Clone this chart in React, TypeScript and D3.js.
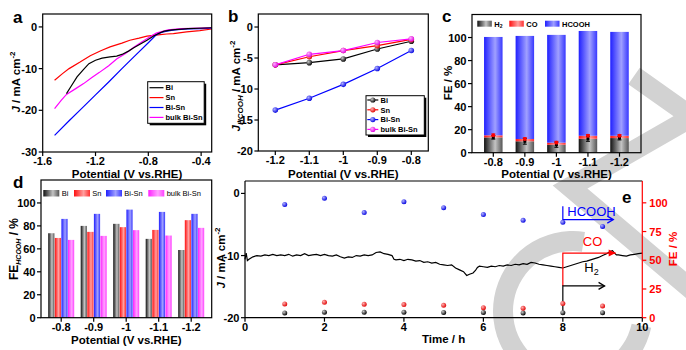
import React from 'react';
import * as d3 from 'd3';

const FONT = '"Liberation Sans", Arial, Helvetica, sans-serif';

// ---------- panel a : LSV curves, [potential (V vs RHE), J (mA cm-2)]
const lsvNames = ['Bi', 'Sn', 'Bi-Sn', 'bulk Bi-Sn'];
const lsvColors = ['#000000', '#ff0000', '#0000ff', '#ff00ff'];
const lsvBi = [
  [-1.42, -16.0], [-1.38, -14.0], [-1.34, -12.0], [-1.29, -10.2], [-1.25, -8.8], [-1.2, -8.0],
  [-1.15, -7.5], [-1.09, -7.2], [-1.04, -7.0], [-1.0, -6.6], [-0.95, -5.8], [-0.91, -5.0],
  [-0.86, -4.1], [-0.81, -3.2], [-0.76, -2.2], [-0.72, -1.5], [-0.68, -1.0], [-0.62, -0.7],
  [-0.5, -0.4], [-0.32, -0.2],
];
const lsvSn = [
  [-1.51, -12.8], [-1.45, -11.2], [-1.4, -10.0], [-1.32, -8.5], [-1.24, -6.9], [-1.16, -5.7],
  [-1.09, -4.8], [-1.0, -3.9], [-0.94, -3.2], [-0.87, -2.7], [-0.81, -2.2], [-0.71, -1.85],
  [-0.66, -1.7], [-0.61, -1.6], [-0.51, -1.2], [-0.41, -0.9], [-0.32, -0.5],
];
const lsvBiSn = [
  [-1.51, -26.0], [-1.4, -22.5], [-1.3, -19.4], [-1.2, -16.3], [-1.1, -13.2], [-1.0, -10.0],
  [-0.9, -6.9], [-0.8, -3.8], [-0.74, -1.9], [-0.7, -1.3], [-0.66, -1.0], [-0.6, -0.7],
  [-0.5, -0.5], [-0.4, -0.4], [-0.32, -0.3],
];
const lsvBulk = [
  [-1.51, -19.6], [-1.46, -17.6], [-1.42, -16.2], [-1.35, -14.8], [-1.29, -13.6], [-1.23, -12.2],
  [-1.17, -10.9], [-1.1, -9.3], [-1.04, -7.7], [-0.97, -6.3], [-0.91, -4.9], [-0.85, -3.6],
  [-0.79, -2.4], [-0.74, -1.5], [-0.7, -1.1], [-0.65, -0.7], [-0.55, -0.4], [-0.32, -0.2],
];
const lsvTicksX = [-1.6, -1.2, -0.8, -0.4];
const lsvTicksY = [0, -10, -20, -30];

// ---------- panel b : partial current density of HCOOH
const potB = [-1.2, -1.1, -1.0, -0.9, -0.8];
const jhBi = [-6.1, -5.75, -5.15, -3.55, -2.3];
const jhSn = [-6.1, -4.8, -3.8, -3.0, -2.0];
const jhBiSn = [-13.4, -11.5, -9.25, -6.7, -3.8];
const jhBulk = [-6.1, -4.4, -3.8, -2.5, -1.9];
const bTicksY = [0, -5, -10, -15, -20];

// ---------- panel c : FE of Bi-Sn
const potC = ['-0.8', '-0.9', '-1', '-1.1', '-1.2'];
const feH2 = [13.3, 9.9, 6.9, 12.1, 12.7];
const feCO = [1.8, 2.0, 1.8, 2.6, 2.0];
const feHCOOH = [85.4, 89.5, 93.6, 91.0, 90.2];
const errH2 = [1.5, 2.5, 2.2, 2.2, 1.6];
const errCO = [1.2, 1.0, 1.2, 1.0, 1.0];
const feTicks = [0, 20, 40, 60, 80, 100];

// ---------- panel d : FE(HCOOH) of all catalysts
const potD = ['-0.8', '-0.9', '-1', '-1.1', '-1.2'];
const fehBi = [73.6, 80.0, 81.8, 68.7, 59.0];
const fehSn = [69.5, 74.8, 78.9, 76.5, 85.0];
const fehBiSn = [86.1, 90.5, 94.2, 92.2, 90.5];
const fehBulk = [67.8, 71.3, 76.3, 71.6, 78.3];

// ---------- panel e : stability test
const traceT = [
  0, 0.03, 0.06, 0.1, 0.2, 0.3, 0.4, 0.5, 0.6, 0.7, 0.8, 0.9, 1.0, 1.1, 1.2, 1.3, 1.4, 1.5, 1.6,
  1.7, 1.8, 1.9, 2.0, 2.1, 2.2, 2.3, 2.4, 2.5, 2.6, 2.7, 2.8, 2.9, 3.0, 3.1, 3.2, 3.3, 3.4, 3.5,
  3.6, 3.7, 3.75, 3.8, 3.9, 4.0, 4.1, 4.2, 4.3, 4.4, 4.5, 4.6, 4.7, 4.8, 4.9, 5.0, 5.1, 5.2, 5.3,
  5.4, 5.5, 5.58, 5.65, 5.74, 5.8, 5.85, 5.9, 6.0, 6.1, 6.2, 6.3, 6.4, 6.5, 6.6, 6.7, 6.8, 6.9,
  7.0, 7.1, 7.2, 7.3, 7.4, 7.5, 7.6, 7.7, 7.8, 7.9, 8.0, 8.1, 8.2, 8.3, 8.4, 8.5, 8.6, 8.7, 8.8,
  8.9, 9.0, 9.1, 9.2, 9.25, 9.3, 9.35, 9.4, 9.5, 9.6, 9.7, 9.8, 9.9, 10.0,
];
const traceJ = [
  -10.6, -9.6, -10.8, -10.6, -10.2, -10.0, -10.1, -9.9, -10.0, -9.8, -10.0, -9.9, -10.0, -9.8,
  -10.1, -9.9, -10.0, -9.7, -10.0, -9.9, -9.8, -10.0, -9.8, -10.0, -10.1, -9.9, -10.2, -10.4,
  -10.2, -10.3, -10.0, -10.1, -9.9, -10.0, -9.9, -9.5, -9.4, -9.7, -9.8, -10.0, -10.6, -10.7,
  -10.6, -10.8, -10.6, -10.7, -10.9, -10.8, -11.1, -11.0, -11.2, -11.1, -11.4, -11.5, -11.6,
  -11.5, -12.0, -12.3, -12.6, -13.2, -13.0, -12.8, -12.4, -11.9, -11.7, -11.8, -11.9, -11.7,
  -11.8, -11.6, -11.7, -11.5, -11.6, -11.4, -11.5, -11.3, -11.4, -11.1, -11.2, -11.4, -11.5,
  -11.6, -11.7, -11.8, -11.9, -12.0, -11.8, -11.6, -11.4, -11.2, -11.0, -10.9, -10.7, -10.5,
  -10.3, -10.0, -9.7, -9.3, -9.2, -9.6, -9.9, -9.9, -10.0, -10.1, -9.9, -9.8, -9.7, -9.6,
];
const hours = [1, 2, 3, 4, 5, 6, 7, 8, 9];
const eHCOOH = [98.6, 104.0, 91.5, 101.0, 95.8, 89.8, 84.8, 83.0, 79.5];
const eCO = [12.0, 13.4, 11.7, 11.4, 10.8, 8.7, 8.2, 12.3, 10.2];
const eH2 = [4.2, 4.8, 4.8, 4.8, 4.6, 4.6, 4.2, 4.4, 4.4];
const eTicksX = [0, 2, 4, 6, 8, 10];
const eTicksJ = [0, -10, -20];
const eTicksFE = [0, 25, 50, 75, 100];

// annotation levels (time h, FE %) for the product arrows
const annoT = 8;
const annoHCOOH = { top: 97, level: 85.4, end: 9.27 };
const annoCO = { level: 56.3, end: 9.33 };
const annoH2 = { level: 27.7, bottom: 4.4, end: 9.05 };

// ---------- scales
const xA = d3.scaleLinear().domain([-1.6, -0.32]).range([42.7, 211.7]);
const yA = d3.scaleLinear().domain([-30, 3.1]).range([152, 14]);
const xB = d3.scaleLinear().domain([-1.25, -0.75]).range([258.3, 428.3]);
const yB = d3.scaleLinear().domain([-20, 2.1]).range([151, 14]);
const xC = d3.scalePoint().domain(potC).range([493.3, 619.5]);
const yC = d3.scaleLinear().domain([0, 120]).range([152.7, 14.5]);
const xD = d3.scalePoint().domain(potD).range([61.2, 191.2]);
const xDin = d3.scaleBand().domain(lsvNames).range([-13, 13]).paddingInner(0.06);
const yD = d3.scaleLinear().domain([0, 120]).range([317.7, 180]);
const xE = d3.scaleLinear().domain([0, 10]).range([245, 642.3]);
const yEJ = d3.scaleLinear().domain([-20, 2]).range([317.7, 181]);
const yEF = d3.scaleLinear().domain([0, 119]).range([317.7, 181]);

const lineA = d3.line().x((d: any) => xA(d[0])).y((d: any) => yA(d[1]));
const lineB = d3.line().x((d: any) => xB(d[0])).y((d: any) => yB(d[1]));
const lineE = d3.line().x((d: any) => xE(d[0])).y((d: any) => yEJ(d[1]));

const sphereIds = ['sphK', 'sphR', 'sphB', 'sphM'];
const barIds = ['barK', 'barR', 'barB', 'barM'];

const tickFs = 11;
const titleFs = 11.5;

function Frame({ x0, x1, y0, y1 }: any) {
  return <rect x={x0} y={y0} width={x1 - x0} height={y1 - y0} fill="none" stroke="#000" strokeWidth={1.2} />;
}

function YTicks({ scale, values, x, color = '#000', right = false }: any) {
  return (
    <g>
      {values.map((v: number) => (
        <g key={v}>
          <line x1={x} x2={right ? x + 4 : x - 4} y1={scale(v)} y2={scale(v)} stroke={color} strokeWidth={1.2} />
          <text x={right ? x + 7 : x - 5.5} y={scale(v) + 4} textAnchor={right ? 'start' : 'end'} fontSize={tickFs} fontWeight="bold" fill={color}>
            {String(v)}
          </text>
        </g>
      ))}
    </g>
  );
}

function XTicks({ scale, values, y, labels }: any) {
  return (
    <g>
      {values.map((v: any, i: number) => (
        <g key={String(v)}>
          <line x1={scale(v)} x2={scale(v)} y1={y} y2={y + 4} stroke="#000" strokeWidth={1.2} />
          <text x={scale(v)} y={y + 13.2} textAnchor="middle" fontSize={tickFs} fontWeight="bold">
            {labels ? labels[i] : String(v)}
          </text>
        </g>
      ))}
    </g>
  );
}

function Chevron({ x, y, color }: any) {
  return <path d={`M${x - 6},${y - 3.5} L${x},${y} L${x - 6},${y + 3.5}`} fill="none" stroke={color} strokeWidth={1.3} />;
}

export default function App() {
  const lsvData = [lsvBi, lsvSn, lsvBiSn, lsvBulk];
  const jhData = [jhBi, jhSn, jhBiSn, jhBulk];
  const fehData = [fehBi, fehSn, fehBiSn, fehBulk];
  const traceData = traceT.map((t, i) => [t, traceJ[i]]);
  const wmArc = d3.arc()({ innerRadius: 60, outerRadius: 80, startAngle: -4.5, endAngle: 0.15 } as any) as string;
  const wmLine = d3.line()([[634, 76], [692, 117], [570, 187], [705, 301]] as any) as string;

  return (
    <svg width={686} height={350} style={{ position: 'absolute', left: 0, top: 0, background: '#fff' }} fontFamily={FONT}>
      <defs>
        {[['#000', '#c8c8c8'], ['#e00000', '#ffb0b0'], ['#0000e0', '#b0b0ff'], ['#e000e0', '#ffb0ff']].map((c, i) => (
          <radialGradient key={i} id={sphereIds[i]} cx="35%" cy="35%" r="70%">
            <stop offset="0%" stopColor={c[1]} />
            <stop offset="100%" stopColor={c[0]} />
          </radialGradient>
        ))}
        {[['#111', '#c4c4c4', '#555'], ['#ff1010', '#ffa0a0', '#ff3030'], ['#2020ff', '#a0a0ff', '#3838ff'], ['#ff20ff', '#ffa4ff', '#ff40ff']].map((c, i) => (
          <linearGradient key={i} id={barIds[i]} x1="0" x2="1" y1="0" y2="0">
            <stop offset="0%" stopColor={c[0]} />
            <stop offset="60%" stopColor={c[1]} />
            <stop offset="100%" stopColor={c[2]} />
          </linearGradient>
        ))}
      </defs>

      {/* watermark */}
      <g fill="#d2d2d2" stroke="none">
        <path d={wmArc} transform="translate(573,311)" />
        <path d={wmLine} fill="none" stroke="#d2d2d2" strokeWidth={20} strokeLinejoin="miter" />
      </g>

      {/* ---------------- panel a ---------------- */}
      <g>
        {[1, 2, 3, 0].map((k) => (
          <path key={k} d={lineA(lsvData[k] as any) as string} fill="none" stroke={lsvColors[k]} strokeWidth={1.2} />
        ))}
        <Frame x0={42.7} x1={211.7} y0={14} y1={152} />
        <YTicks scale={yA} values={lsvTicksY} x={42.7} />
        <XTicks scale={xA} values={lsvTicksX} y={152} />
        <rect x={149.7} y={83.7} width={56.5} height={41.6} fill="#000" />
        <rect x={147.7} y={81.7} width={56.5} height={41.6} fill="#fff" stroke="#000" strokeWidth={1} />
        {lsvNames.map((n, i) => (
          <g key={n}>
            <line x1={149.5} x2={163.5} y1={87.7 + i * 9.9} y2={87.7 + i * 9.9} stroke={lsvColors[i]} strokeWidth={1.2} />
            <text x={165.5} y={90.4 + i * 9.9} fontSize={7.5} fontWeight="bold">{n}</text>
          </g>
        ))}
        <text transform={`translate(19.5,82) rotate(-90)`} textAnchor="middle" fontSize={titleFs} fontWeight="bold">
          <tspan fontStyle="italic">J</tspan> / mA cm<tspan dy={-5} fontSize={8}>-2</tspan>
        </text>
        <text x={127} y={177.5} textAnchor="middle" fontSize={titleFs} fontWeight="bold">Potential (V vs.RHE)</text>
        <text x={13} y={23} fontSize={17} fontWeight="bold">a</text>
      </g>

      {/* ---------------- panel b ---------------- */}
      <g>
        {[0, 1, 2, 3].map((k) => (
          <g key={k}>
            <path d={lineB(potB.map((p, i) => [p, jhData[k][i]]) as any) as string} fill="none" stroke={lsvColors[k]} strokeWidth={1.2} />
            {potB.map((p, i) => (
              <circle key={i} cx={xB(p)} cy={yB(jhData[k][i])} r={2.8} fill={`url(#${sphereIds[k]})`} />
            ))}
          </g>
        ))}
        <Frame x0={258.3} x1={428.3} y0={14} y1={151} />
        <YTicks scale={yB} values={bTicksY} x={258.3} />
        <XTicks scale={xB} values={potB} y={151} labels={['-1.2', '-1.1', '-1', '-0.9', '-0.8']} />
        <rect x={368} y={97.7} width={58.3} height={39.3} fill="#000" />
        <rect x={366} y={95.7} width={58.3} height={39.3} fill="#fff" stroke="#000" strokeWidth={1} />
        {lsvNames.map((n, i) => (
          <g key={n}>
            <line x1={367.3} x2={378.3} y1={100 + i * 9.8} y2={100 + i * 9.8} stroke={lsvColors[i]} strokeWidth={1.2} />
            <circle cx={372.8} cy={100 + i * 9.8} r={2.6} fill={`url(#${sphereIds[i]})`} />
            <text x={380.5} y={102.7 + i * 9.8} fontSize={7.5} fontWeight="bold">{n}</text>
          </g>
        ))}
        <text transform={`translate(240,86) rotate(-90)`} textAnchor="middle" fontSize={titleFs} fontWeight="bold">
          <tspan fontStyle="italic">J</tspan>
          <tspan dy={3} fontSize={8} fontStyle="italic">HCOOH</tspan>
          <tspan dy={-3}> / mA cm</tspan>
          <tspan dy={-5} fontSize={8}>-2</tspan>
        </text>
        <text x={343.3} y={177.5} textAnchor="middle" fontSize={titleFs} fontWeight="bold">Potential (V vs.RHE)</text>
        <text x={228} y={22} fontSize={17} fontWeight="bold">b</text>
      </g>

      {/* ---------------- panel c ---------------- */}
      <g>
        {potC.map((p, i) => {
          const cx = xC(p) as number;
          const bw = 18.5;
          const t1 = feH2[i];
          const t2 = t1 + feCO[i];
          const t3 = t2 + feHCOOH[i];
          return (
            <g key={p}>
              <rect x={cx - bw / 2} y={yC(t1)} width={bw} height={yC(0) - yC(t1)} fill="url(#barK)" />
              <rect x={cx - bw / 2} y={yC(t2)} width={bw} height={yC(t1) - yC(t2)} fill="url(#barR)" />
              <rect x={cx - bw / 2} y={yC(t3)} width={bw} height={yC(t2) - yC(t3)} fill="url(#barB)" />
              <g stroke="#000" strokeWidth={1}>
                <line x1={cx} x2={cx} y1={yC(t1 - errH2[i])} y2={yC(t1 + errH2[i])} />
                <line x1={cx - 2} x2={cx + 2} y1={yC(t1 - errH2[i])} y2={yC(t1 - errH2[i])} />
                <line x1={cx - 2} x2={cx + 2} y1={yC(t1 + errH2[i])} y2={yC(t1 + errH2[i])} />
              </g>
              <rect x={cx - 1.5} y={yC(t1) - 1.5} width={3} height={3} fill="#000" />
              <g stroke="#ff0000" strokeWidth={1}>
                <line x1={cx} x2={cx} y1={yC(t2 - errCO[i])} y2={yC(t2 + errCO[i])} />
                <line x1={cx - 2} x2={cx + 2} y1={yC(t2 + errCO[i])} y2={yC(t2 + errCO[i])} />
              </g>
              <circle cx={cx} cy={yC(t2)} r={1.9} fill="#ff0000" />
            </g>
          );
        })}
        <Frame x0={472} x1={641} y0={14.5} y1={152.7} />
        <YTicks scale={yC} values={feTicks} x={472} />
        <XTicks scale={xC} values={potC} y={152.7} />
        {[['H', 477.3], ['CO', 509.3], ['HCOOH', 545]].map((d: any, i) => (
          <g key={i}>
            <rect x={d[1]} y={20.7} width={14.5} height={6} fill={`url(#${barIds[i === 0 ? 0 : i === 1 ? 1 : 2]})`} />
            <text x={d[1] + 17} y={26.5} fontSize={7.5} fontWeight="bold">
              {d[0]}
              {i === 0 ? <tspan dy={1.5} fontSize={5}>2</tspan> : null}
            </text>
          </g>
        ))}
        <text transform={`translate(451.5,83) rotate(-90)`} textAnchor="middle" fontSize={titleFs} fontWeight="bold">FE / %</text>
        <text x={556.5} y={178} textAnchor="middle" fontSize={titleFs} fontWeight="bold">Potential (V vs.RHE)</text>
        <text x={442} y={22} fontSize={17} fontWeight="bold">c</text>
      </g>

      {/* ---------------- panel d ---------------- */}
      <g>
        {potD.map((p, i) => (
          <g key={p}>
            {lsvNames.map((n, k) => (
              <rect key={n} x={(xD(p) as number) + (xDin(n) as number)} y={yD(fehData[k][i])} width={xDin.bandwidth()}
                height={yD(0) - yD(fehData[k][i])} fill={`url(#${barIds[k]})`} />
            ))}
          </g>
        ))}
        <Frame x0={41} x1={211.7} y0={180} y1={317.7} />
        <YTicks scale={yD} values={feTicks} x={41} />
        <XTicks scale={xD} values={potD} y={317.7} />
        {[[43.3, 61.7], [74, 92.3], [106, 124.3], [148.3, 166.7]].map((d, i) => (
          <g key={i}>
            <rect x={d[0]} y={190} width={16} height={6.5} fill={`url(#${barIds[i]})`} />
            <text x={d[1]} y={196} fontSize={7.5}>{lsvNames[i]}</text>
          </g>
        ))}
        <text transform={`translate(18,249) rotate(-90)`} textAnchor="middle" fontSize={12} fontWeight="bold">
          FE<tspan dy={3} fontSize={7} fontStyle="italic">HCOOH</tspan>
          <tspan dy={-3}> / %</tspan>
        </text>
        <text x={126.4} y={343.5} textAnchor="middle" fontSize={titleFs} fontWeight="bold">Potential (V vs.RHE)</text>
        <text x={13} y={188} fontSize={17} fontWeight="bold">d</text>
      </g>

      {/* ---------------- panel e ---------------- */}
      <g>
        <path d={lineE(traceData as any) as string} fill="none" stroke="#000" strokeWidth={1.2} />
        {/* product arrows */}
        <path d={`M${xE(annoT)},${yEF(annoHCOOH.top)} V${yEF(annoHCOOH.level)} H${xE(annoHCOOH.end)}`} fill="none" stroke="#0000ff" strokeWidth={1.2} />
        <Chevron x={xE(annoHCOOH.end)} y={yEF(annoHCOOH.level)} color="#0000ff" />
        <path d={`M${xE(annoCO.end)},${yEF(annoCO.level)} H${xE(annoT)} V${yEF(annoH2.level)}`} fill="none" stroke="#ff0000" strokeWidth={1.2} />
        <path d={`M${xE(annoCO.end)},${yEF(annoCO.level)} l-7,-3.5 l0,7 z`} fill="#ff0000" />
        <path d={`M${xE(annoT)},${yEF(annoH2.bottom)} V${yEF(annoH2.level)} H${xE(annoH2.end)}`} fill="none" stroke="#000" strokeWidth={1.2} />
        <Chevron x={xE(annoH2.end)} y={yEF(annoH2.level)} color="#000" />
        <text x={xE(annoT) + 4.5} y={yEF(annoHCOOH.level) - 3.5} fontSize={13} fill="#0000ff">HCOOH</text>
        <text x={xE(annoT) + 20} y={yEF(annoCO.level) - 7} fontSize={13} fill="#ff0000">CO</text>
        <text x={xE(annoT) + 21.5} y={yEF(annoH2.level) - 13.5} fontSize={13} fill="#000">
          H<tspan dy={3} fontSize={9}>2</tspan>
        </text>
        {/* FE points */}
        {[[eH2, 0], [eCO, 1], [eHCOOH, 2]].map((s: any) => (
          <g key={s[1]}>
            {hours.map((h, i) => (
              <circle key={h} cx={xE(h)} cy={yEF(s[0][i])} r={2.5} fill={`url(#${sphereIds[s[1]]})`} />
            ))}
          </g>
        ))}
        <line x1={245} x2={642.3} y1={181} y2={181} stroke="#000" strokeWidth={1.2} />
        <line x1={245} x2={642.3} y1={317.7} y2={317.7} stroke="#000" strokeWidth={1.2} />
        <line x1={245} x2={245} y1={181} y2={317.7} stroke="#000" strokeWidth={1.2} />
        <line x1={642.3} x2={642.3} y1={181} y2={317.7} stroke="#ff0000" strokeWidth={1.2} />
        <YTicks scale={yEJ} values={eTicksJ} x={245} />
        <YTicks scale={yEF} values={eTicksFE} x={642.3} color="#ff0000" right />
        <XTicks scale={xE} values={eTicksX} y={317.7} />
        <text transform={`translate(225,258) rotate(-90)`} textAnchor="middle" fontSize={titleFs} fontWeight="bold">
          <tspan fontStyle="italic">J</tspan> / mA cm<tspan dy={-5} fontSize={8}>-2</tspan>
        </text>
        <text transform={`translate(677,249) rotate(-90)`} textAnchor="middle" fontSize={titleFs} fontWeight="bold" fill="#ff0000">FE / %</text>
        <text x={443.6} y={342.5} textAnchor="middle" fontSize={titleFs} fontWeight="bold">Time / h</text>
        <text x={622} y={203} fontSize={17} fontWeight="bold">e</text>
      </g>
    </svg>
  );
}
